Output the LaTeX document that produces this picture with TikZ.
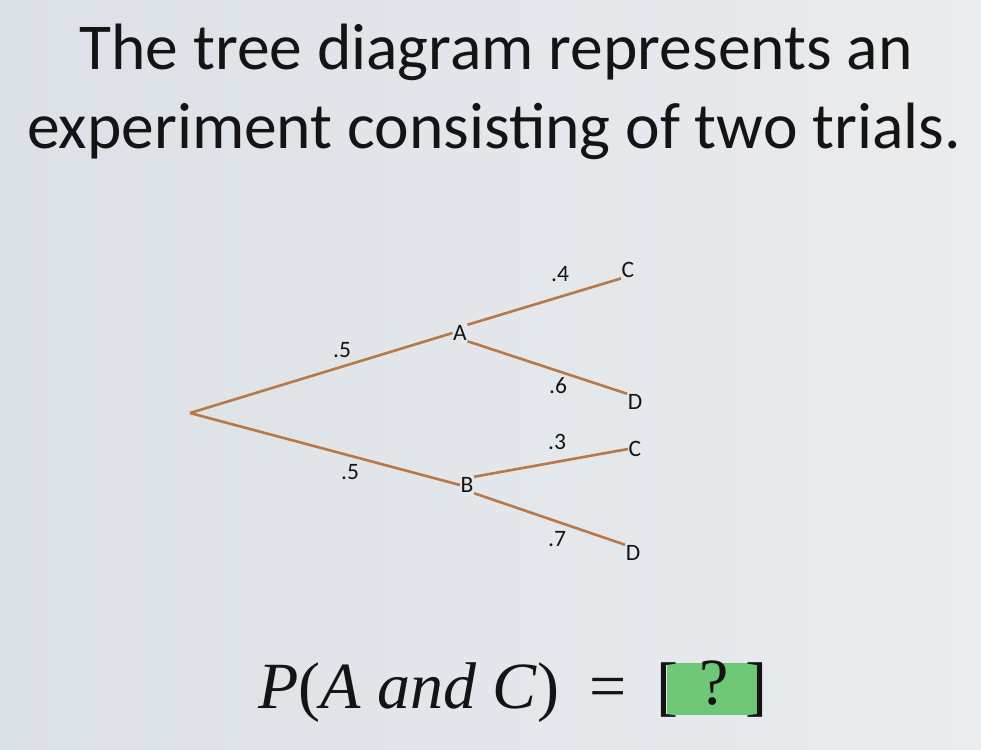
\documentclass[tikz,border=0pt]{standalone}
\usepackage{fontspec}
\setmainfont{Carlito}
\newfontfamily\serifit{Liberation Serif}
\definecolor{bgleft}{RGB}{220,225,231}
\definecolor{bgright}{RGB}{234,236,238}
\definecolor{branch}{RGB}{185,120,70}
\definecolor{ansgreen}{RGB}{110,200,120}
\definecolor{txt}{RGB}{20,20,20}
\tikzset{
  lbl/.style={font=\fontsize{23.5}{24}\selectfont, text=txt, inner sep=0.5pt},
  br/.style={draw=branch, line width=2.6pt},
  ttl/.style={font=\fontsize{65.5}{70}\selectfont, text=txt, inner sep=0pt, anchor=base},
  eqtxt/.style={font=\fontsize{66}{70}\selectfont\serifit, text=txt, inner sep=0pt}
}
\begin{document}
\begin{tikzpicture}[x=1pt,y=-1pt]
\shade[left color=bgleft, right color=bgright] (0,0) rectangle (981,749);
\useasboundingbox (0,0) rectangle (981,749);
\node[ttl] (t1) at (496,70) {The tree diagram represents an};
\node[ttl] (t2) at (494,148) {experiment consisting of two trials.};
\coordinate (root) at (190,413);
\node[lbl] (A) at (460,333) {A};
\node[lbl] (B) at (467,485) {B};
\node[lbl] (C1) at (628,270) {C};
\node[lbl] (D1) at (635,402) {D};
\node[lbl] (C2) at (635,449) {C};
\node[lbl] (D2) at (633,553) {D};
\draw[br] (root) -- (A.west);
\draw[br] (root) -- (B.west);
\draw[br] (A.north east) -- (C1.south west);
\draw[br] (A.south east) -- (D1.north west);
\draw[br] (B.north east) -- (C2.west);
\draw[br] (B.south east) -- (D2.north west);
\node[lbl] (p1) at (342,350) {.5};
\node[lbl] (p2) at (350,472) {.5};
\node[lbl] (p3) at (560,274) {.4};
\node[lbl] (p4) at (558,386) {.6};
\node[lbl] (p5) at (557,442) {.3};
\node[lbl] (p6) at (557,539) {.7};
\node[eqtxt, anchor=base west] (eq) at (258,708)
  {\itshape P\/\upshape(\itshape A and C\/\upshape)};
\node[eqtxt, anchor=base] (eqs) at (608,708) {=};
\fill[ansgreen] (667,663) rectangle (758,715);
\node[eqtxt, anchor=base west] (lb) at (656,708) {[};
\node[eqtxt, anchor=base] (q) at (714,704) {?};
\node[eqtxt, anchor=base east] (rb) at (768,708) {]};
\end{tikzpicture}
\end{document}
